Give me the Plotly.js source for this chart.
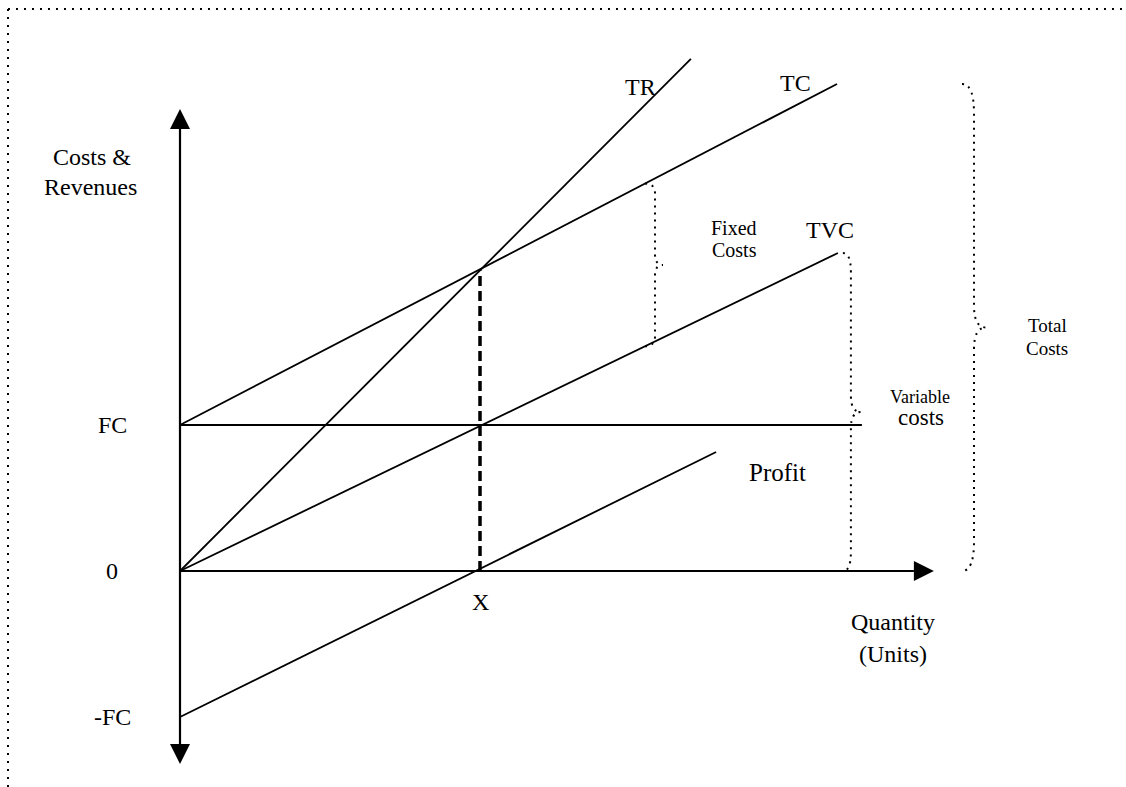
<!DOCTYPE html>
<html>
<head>
<meta charset="utf-8">
<script src="https://cdn.plot.ly/plotly-3.0.1.min.js"></script>
<style>html,body{margin:0;padding:0;background:#fff;}#chart{width:1126px;height:787px;}</style>
</head>
<body>
<div id="chart"></div>
<script>
// ---- data (quantity units, money units) ----
const qTR = [0, 17.03];      const TR = [0, 350.7];
const qTC = [0, 21.9];      const TC = [100, 333.6];
const qTVC = [0, 21.93];    const TVC = [0, 217.8];
const qFC = [0, 22.73];     const FCline = [100, 100];
const qProfit = [0, 17.87]; const Profit = [-100, 81.5];
const breakEvenQ = 10;      const breakEvenV = 206;
const qAxisEnd = 25.13;     const vAxisTop = 316.4;  const vAxisBottom = -132.2;
const yTickVals = [100, 0, -100];
const yTickText = ['FC', '0', '-FC'];
const xTickVals = [10];
const xTickText = ['X'];
const fixedBraceQ = 15.5;   // where the fixed-costs brace sits

// ---- layout geometry (pixels) ----
const W = 1126, H = 787;
const OX = 180, OY = 571, SX = 30, SY = 1.46;
const xr = [(0 - OX) / SX, (W - OX) / SX];
const yr = [(OY - H) / SY, OY / SY];
const dq = px => px / SX, dv = px => px / SY;
const FONT = 'Liberation Serif, Times New Roman, serif';

function lineTrace(x, y, w, dash) {
  return {x: x, y: y, type: 'scatter', mode: 'lines', hoverinfo: 'skip',
          line: {color: '#000', width: w, dash: dash || 'solid'}, showlegend: false};
}

const traces = [
  lineTrace(qTR, TR, 1.8),
  lineTrace(qTC, TC, 1.8),
  lineTrace(qTVC, TVC, 1.8),
  lineTrace(qFC, FCline, 1.8),
  lineTrace(qProfit, Profit, 1.8),
  lineTrace([breakEvenQ, breakEvenQ], [0, breakEvenV], 3.5, '10px,5px'),
  // axes
  lineTrace([0, qAxisEnd - dq(20)], [0, 0], 2.2),
  lineTrace([0, 0], [vAxisBottom + dv(20), vAxisTop - dv(20)], 2.2)
];

const shapes = [];
// arrowheads
function tri(pts) {
  return {type: 'path', xref: 'x', yref: 'y', fillcolor: '#000', line: {width: 0},
          path: 'M' + pts.map(p => p[0] + ',' + p[1]).join(' L') + ' Z'};
}
shapes.push(tri([[qAxisEnd, 0], [qAxisEnd - dq(20), dv(10)], [qAxisEnd - dq(20), -dv(10)]]));
shapes.push(tri([[0, vAxisTop], [-dq(10), vAxisTop - dv(20)], [dq(10), vAxisTop - dv(20)]]));
shapes.push(tri([[0, vAxisBottom], [-dq(10), vAxisBottom + dv(20)], [dq(10), vAxisBottom + dv(20)]]));

// dotted braces
function brace(q, vTop, vBot, offPx, depthPx, cuspPx) {
  const span = (vTop - vBot) * SY;
  const r = Math.max(8, span * 0.06);
  const ch = span * 0.035 + 5;
  const vm = (vTop + vBot) / 2;
  const x0 = q + dq(offPx), x1 = x0 + dq(depthPx), xc = x1 + dq(cuspPx);
  const p = [
    'M', x0, vTop,
    'Q', x1, vTop, x1, vTop - dv(r),
    'L', x1, vm + dv(ch),
    'Q', x1, vm, xc, vm,
    'Q', x1, vm, x1, vm - dv(ch),
    'L', x1, vBot + dv(r),
    'Q', x1, vBot, x0, vBot
  ];
  let s = '';
  for (let i = 0; i < p.length; i++) {
    const t = p[i];
    if (typeof t === 'string') s += (s ? ' ' : '') + t + ' ';
    else { s += t + (typeof p[i + 1] === 'number' ? ',' : ' '); }
  }
  return {type: 'path', xref: 'x', yref: 'y', path: s.trim(),
          line: {color: '#000', width: 2, dash: '2px,5px'}};
}
const tcAt = q => TC[0] + (TC[1] - TC[0]) * q / qTC[1];
const tvcAt = q => TVC[0] + (TVC[1] - TVC[0]) * q / qTVC[1];
shapes.push(brace(fixedBraceQ, tcAt(fixedBraceQ), tvcAt(fixedBraceQ), 0, 10, 8));
shapes.push(brace(qTVC[1], TVC[1], 0, 5, 8, 10));
shapes.push(brace(qTC[1], TC[1], 0, 125, 12, 12));

// dotted page frame
shapes.push({type: 'line', xref: 'paper', yref: 'paper', x0: 8 / W, x1: 1, y0: 1 - 9 / H, y1: 1 - 9 / H,
             line: {color: '#000', width: 2, dash: '2px,6px'}});
shapes.push({type: 'line', xref: 'paper', yref: 'paper', x0: 8 / W, x1: 8 / W, y0: 1 - 9 / H, y1: 0,
             line: {color: '#000', width: 2, dash: '2px,6px'}});

// texts
const ann = [];
function txt(text, px, py, size, opts) {
  ann.push(Object.assign({text: text, xref: 'paper', yref: 'paper', x: px / W, y: 1 - py / H,
    xanchor: 'center', yanchor: 'middle', showarrow: false,
    font: {family: FONT, size: size, color: '#000'}}, opts || {}));
}
yTickVals.forEach((v, i) => ann.push({text: yTickText[i], xref: 'paper', yref: 'y', x: 112 / W, y: v,
  xanchor: 'center', yanchor: 'middle', showarrow: false, font: {family: FONT, size: 24, color: '#000'}}));
xTickVals.forEach((q, i) => ann.push({text: xTickText[i], xref: 'x', yref: 'paper', x: q, y: 1 - 602 / H,
  xanchor: 'center', yanchor: 'middle', showarrow: false, font: {family: FONT, size: 24, color: '#000'}}));

txt('Costs &', 92, 157, 24);
txt('Revenues', 90, 187, 24);
txt('TR', 640, 87, 24);
txt('TC', 795, 83, 24);
txt('TVC', 830, 230, 24);
txt('Fixed', 734, 228, 20);
txt('Costs', 735, 250, 20);
txt('Variable', 920, 397, 18);
txt('costs', 921, 418, 23);
txt('Total', 1047, 325, 19);
txt('Costs', 1047, 349, 19);
txt('Profit', 777, 472, 25);
txt('Quantity', 893, 622, 24);
txt('(Units)', 893, 654, 24);

const layout = {
  width: W, height: H, margin: {l: 0, r: 0, t: 0, b: 0},
  paper_bgcolor: '#fff', plot_bgcolor: '#fff', showlegend: false,
  xaxis: {range: xr, visible: false, fixedrange: true},
  yaxis: {range: yr, visible: false, fixedrange: true},
  shapes: shapes, annotations: ann
};
Plotly.newPlot('chart', traces, layout, {staticPlot: true, displayModeBar: false});
</script>
</body>
</html>
